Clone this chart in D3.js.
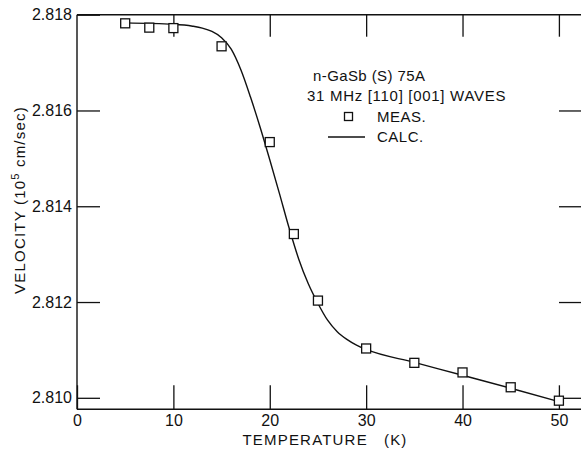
<!DOCTYPE html>
<html>
<head>
<meta charset="utf-8">
<script src="https://cdn.jsdelivr.net/npm/d3@7"></script>
<style>
  body { margin: 0; background: #fff; }
  text { font-family: "Liberation Sans", Arial, sans-serif; fill: #111; }
</style>
</head>
<body>
<svg id="chart" width="581" height="452"></svg>
<script>
// measured points (squares)
var measT = [5, 7.5, 10, 15, 20, 22.5, 25, 30, 35, 40, 45, 50];
var measV = [2.81782, 2.81773, 2.81772, 2.81734, 2.81534, 2.81342, 2.81203, 2.81103, 2.81073, 2.81053, 2.81022, 2.80994];

// calculated curve
var calcT = [5, 10, 12, 13, 14, 15, 16, 17, 18, 19, 20, 21, 22, 23, 24, 25, 26, 27, 28, 29, 30, 35, 40, 45, 50];
var calcV = [2.81783, 2.81780, 2.81776, 2.81772, 2.81765, 2.81752, 2.81728, 2.81685, 2.81628, 2.81565, 2.81497, 2.81427, 2.81355, 2.81290, 2.81238, 2.81197, 2.81162, 2.81138, 2.81122, 2.81110, 2.81101, 2.81074, 2.81047, 2.81020, 2.80992];

var xTicks = [0, 10, 20, 30, 40, 50];
var yTicks = [2.810, 2.812, 2.814, 2.816, 2.818];
var legendLines = ["n-GaSb (S) 75A", "31 MHz [110] [001] WAVES"];

var svg = d3.select("#chart");

var mLeft = 77, mRight = 583, mTop = 14.7, mBottom = 409.3;

var x = d3.scaleLinear().domain([0, 52.5]).range([mLeft, mRight]);
var y = d3.scaleLinear().domain([2.80976, 2.818]).range([mBottom, mTop]);

var ink = "#111";

// frame lines (left, top, bottom)
svg.append("line").attr("x1", mLeft).attr("x2", mLeft).attr("y1", mTop).attr("y2", mBottom)
    .style("stroke", ink).style("stroke-width", 1.4);
svg.append("line").attr("x1", mLeft).attr("x2", mRight).attr("y1", mTop).attr("y2", mTop)
    .style("stroke", ink).style("stroke-width", 1.4);
svg.append("line").attr("x1", mLeft).attr("x2", mRight).attr("y1", mBottom).attr("y2", mBottom)
    .style("stroke", ink).style("stroke-width", 1.4);

// bottom axis
var xAxis = svg.append("g")
    .attr("transform", "translate(0," + mBottom + ")")
    .call(d3.axisBottom(x).tickValues(xTicks).tickSizeInner(-24).tickSizeOuter(0).tickPadding(5).tickFormat(d3.format("d")));
xAxis.select(".domain").remove();
xAxis.selectAll("line").style("stroke", ink).style("stroke-width", 1.3);
xAxis.selectAll("text").style("font-size", "16px").style("fill", ink);

// top axis (ticks only)
var xTop = svg.append("g")
    .attr("transform", "translate(0," + mTop + ")")
    .call(d3.axisTop(x).tickValues(xTicks.slice(1)).tickSizeInner(-22).tickSizeOuter(0).tickFormat(""));
xTop.select(".domain").remove();
xTop.selectAll("line").style("stroke", ink).style("stroke-width", 1.3);

// left axis
var yAxis = svg.append("g")
    .attr("transform", "translate(" + mLeft + ",0)")
    .call(d3.axisLeft(y).tickValues(yTicks).tickSizeInner(-23).tickSizeOuter(0).tickPadding(5).tickFormat(d3.format(".3f")));
yAxis.select(".domain").remove();
yAxis.selectAll("line").style("stroke", ink).style("stroke-width", 1.3);
yAxis.selectAll("text").style("font-size", "16px").style("fill", ink);

// right axis (ticks only)
var yRight = svg.append("g")
    .attr("transform", "translate(581,0)")
    .call(d3.axisRight(y).tickValues(yTicks.slice(0, 4)).tickSizeInner(-22).tickSizeOuter(0).tickFormat(""));
yRight.select(".domain").remove();
yRight.selectAll("line").style("stroke", ink).style("stroke-width", 1.3);

svg.selectAll("g").attr("font-family", null).attr("font-size", null);

// axis titles
svg.append("text")
    .attr("x", 325).attr("y", 445)
    .attr("text-anchor", "middle")
    .style("font-size", "15px")
    .style("letter-spacing", "1.2px")
    .style("white-space", "pre")
    .text("TEMPERATURE   (K)");

var yTitle = svg.append("text")
    .attr("transform", "translate(25,200) rotate(-90)")
    .attr("text-anchor", "middle")
    .style("font-size", "15px")
    .style("letter-spacing", "1.2px");
yTitle.append("tspan").text("VELOCITY (10");
yTitle.append("tspan").attr("dy", -6).style("font-size", "11px").text("5");
yTitle.append("tspan").attr("dy", 6).text(" cm/sec)");

// calculated curve
var line = d3.line()
    .x(function(d, i) { return x(calcT[i]); })
    .y(function(d) { return y(d); })
    .curve(d3.curveMonotoneX);

svg.append("path")
    .datum(calcV)
    .attr("d", line)
    .style("fill", "none")
    .style("stroke", ink)
    .style("stroke-width", 1.4);

// measured squares
var sq = 9;
svg.selectAll("rect.meas")
    .data(measV)
    .enter().append("rect")
    .attr("class", "meas")
    .attr("x", function(d, i) { return x(measT[i]) - sq / 2; })
    .attr("y", function(d) { return y(d) - sq / 2; })
    .attr("width", sq).attr("height", sq)
    .style("fill", "#fff")
    .style("stroke", ink)
    .style("stroke-width", 1.3);

// legend
svg.append("text").attr("x", 313).attr("y", 81).style("font-size", "15px").style("letter-spacing", "0.4px").text(legendLines[0]);
svg.append("text").attr("x", 307).attr("y", 101).style("font-size", "15px").style("letter-spacing", "0.7px").text(legendLines[1]);
svg.append("rect").attr("x", 344.5).attr("y", 112.5).attr("width", 8).attr("height", 8)
    .style("fill", "#fff").style("stroke", ink).style("stroke-width", 1.3);
svg.append("text").attr("x", 377).attr("y", 122).style("font-size", "15px").style("letter-spacing", "0.5px").text("MEAS.");
svg.append("line").attr("x1", 328).attr("x2", 365).attr("y1", 137).attr("y2", 137)
    .style("stroke", ink).style("stroke-width", 1.4);
svg.append("text").attr("x", 377).attr("y", 142).style("font-size", "15px").style("letter-spacing", "0.5px").text("CALC.");
</script>
</body>
</html>
